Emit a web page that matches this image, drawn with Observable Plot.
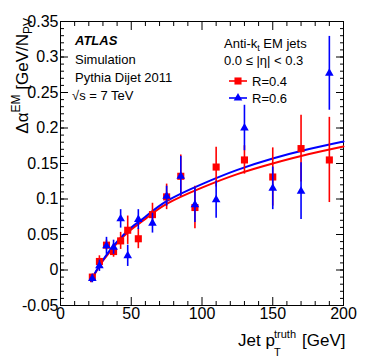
<!DOCTYPE html>
<html><head><meta charset="utf-8">
<script src="https://cdn.jsdelivr.net/npm/d3@7"></script>
<script src="https://cdn.jsdelivr.net/npm/@observablehq/plot@0.6"></script>
<style>body{margin:0;background:#fff}#chart{width:374px;height:359px}</style>
</head><body><div id="chart"></div>
<script>
// ---- data ----
const ptX = [22.5, 27.5, 32.5, 37.5, 42.5, 47.5, 55, 65, 75, 85, 95, 110, 130, 150, 170, 190];
const redY = [-0.010, 0.012, 0.035, 0.026, 0.041, 0.056, 0.044, 0.078, 0.103, 0.132, 0.088, 0.145, 0.155, 0.131, 0.171, 0.155];
const redErr = [0.004, 0.008, 0.007, 0.008, 0.012, 0.020, 0.014, 0.016, 0.018, 0.030, 0.030, 0.028, 0.020, 0.041, 0.047, 0.060];
const blueY = [-0.012, 0.006, 0.034, 0.032, 0.072, 0.020, 0.071, 0.066, 0.104, 0.132, 0.092, 0.099, 0.200, 0.115, 0.111, 0.277];
const blueErr = [0.006, 0.008, 0.012, 0.010, 0.013, 0.015, 0.014, 0.014, 0.014, 0.028, 0.025, 0.026, 0.032, 0.030, 0.040, 0.052];
const fitX = [21.5, 25, 30, 35, 40, 50, 60, 75, 100, 125, 150, 175, 200];
const redFit = [-0.016, -0.003, 0.013, 0.026, 0.038, 0.057, 0.072, 0.093, 0.116, 0.135, 0.150, 0.163, 0.174];
const blueFit = [-0.015, -0.002, 0.014, 0.028, 0.040, 0.060, 0.075, 0.097, 0.121, 0.141, 0.157, 0.170, 0.181];
const xMajor = [0, 50, 100, 150, 200];
const xMinor = [10, 20, 30, 40, 60, 70, 80, 90, 110, 120, 130, 140, 160, 170, 180, 190];
const yMajor = [-0.05, 0, 0.05, 0.1, 0.15, 0.2, 0.25, 0.3, 0.35];
const yMinor = d3.range(-0.05, 0.3501, 0.01).map(v => +v.toFixed(2));
const seriesNames = ["R=0.4", "R=0.6"];

const red = ptX.map((x, i) => ({x, y: redY[i], lo: redY[i] - redErr[i], hi: redY[i] + redErr[i]}));
const blue = ptX.map((x, i) => ({x, y: blueY[i], lo: blueY[i] - blueErr[i], hi: blueY[i] + blueErr[i]}));
const redCurve = fitX.map((x, i) => ({x, y: redFit[i]}));
const blueCurve = fitX.map((x, i) => ({x, y: blueFit[i]}));

const RED = "#ff0000", BLUE = "#0000ff";
const font = "'Liberation Sans', Arial, Helvetica, sans-serif";
const fmt = d => String(+(+d).toFixed(2));
const none = () => "";

const plot = Plot.plot({
  width: 374, height: 359,
  marginLeft: 60, marginRight: 31, marginTop: 21, marginBottom: 54,
  style: {fontFamily: font, fontSize: "16px", background: "#fff", color: "#000"},
  x: {domain: [0, 200]},
  y: {domain: [-0.05, 0.35]},
  marks: [
    Plot.axisX({anchor: "bottom", ticks: xMinor, tickSize: -4, tickFormat: none, label: null}),
    Plot.axisX({anchor: "bottom", ticks: xMajor, tickSize: -8, tickPadding: 10, tickFormat: fmt, label: null}),
    Plot.axisX({anchor: "top", ticks: xMinor, tickSize: -4, tickFormat: none, label: null}),
    Plot.axisX({anchor: "top", ticks: xMajor, tickSize: -8, tickFormat: none, label: null}),
    Plot.axisY({anchor: "left", ticks: yMinor, tickSize: -4, tickFormat: none, label: null}),
    Plot.axisY({anchor: "left", ticks: yMajor, tickSize: -8, tickPadding: 10, tickFormat: fmt, label: null}),
    Plot.axisY({anchor: "right", ticks: yMinor, tickSize: -4, tickFormat: none, label: null}),
    Plot.axisY({anchor: "right", ticks: yMajor, tickSize: -8, tickFormat: none, label: null}),
    Plot.frame({stroke: "#000", strokeWidth: 1}),
    Plot.line(redCurve, {x: "x", y: "y", stroke: RED, strokeWidth: 2, curve: "natural"}),
    Plot.line(blueCurve, {x: "x", y: "y", stroke: BLUE, strokeWidth: 2, curve: "natural"}),
    Plot.ruleX(red, {x: "x", y1: "lo", y2: "hi", stroke: RED, strokeWidth: 1.6}),
    Plot.dot(red, {x: "x", y: "y", symbol: "square", r: 4, fill: RED, stroke: "none"}),
    Plot.ruleX(blue, {x: "x", y1: "lo", y2: "hi", stroke: BLUE, strokeWidth: 1.6}),
    Plot.dot(blue, {x: "x", y: "y", symbol: "triangle", r: 3.2, fill: BLUE, stroke: "none"})
  ]
});
document.getElementById("chart").appendChild(plot);

// ---- annotations ----
const svg = d3.select(plot);
const g = svg.append("g").attr("font-family", font).attr("fill", "#000").attr("text-anchor", "start");

function txt(x, y, parts, size, opts = {}) {
  const t = g.append("text").attr("x", x).attr("y", y).attr("font-size", size)
    .attr("text-anchor", opts.anchor || "start");
  if (opts.transform) t.attr("transform", opts.transform).attr("x", 0).attr("y", 0);
  for (const p of parts) {
    const s = t.append("tspan").text(p.t);
    if (p.size) s.attr("font-size", p.size);
    if (p.dy) s.attr("dy", p.dy);
    if (p.weight) s.attr("font-weight", p.weight);
    if (p.style) s.attr("font-style", p.style);
  }
  return t;
}

// y-axis title
txt(0, 0, [
  {t: "Δα"}, {t: "EM", size: 12, dy: -8}, {t: " [GeV/N", dy: 8}, {t: "PV", size: 12, dy: 4}
], 17, {anchor: "end", transform: "translate(28,18) rotate(-90)"});

// x-axis title
txt(238, 346, [{t: "Jet p"}], 17);
txt(274, 356, [{t: "T"}], 11);
txt(274, 338, [{t: "truth"}], 11);
txt(302, 346, [{t: "[GeV]"}], 17);

// ATLAS block
txt(75, 45, [{t: "ATLAS", weight: "bold", style: "italic"}], 13);
txt(75, 64, [{t: "Simulation"}], 13);
txt(75, 82, [{t: "Pythia Dijet 2011"}], 13);
txt(72, 100, [{t: "√s = 7 TeV"}], 13);

// right block
txt(224, 48, [{t: "Anti-k"}, {t: "t", size: 9, dy: 3}, {t: " EM jets", dy: -3}], 13);
txt(224, 65, [{t: "0.0 ≤ |η| < 0.3"}], 13);

// legend
const leg = [{name: seriesNames[0], color: RED, sym: d3.symbolSquare, size: Math.PI * 16, y: 81},
             {name: seriesNames[1], color: BLUE, sym: d3.symbolTriangle, size: Math.PI * 3.2 * 3.2, y: 98}];
for (const l of leg) {
  g.append("line").attr("x1", 229).attr("x2", 247).attr("y1", l.y).attr("y2", l.y)
    .attr("stroke", l.color).attr("stroke-width", 1.6);
  g.append("path").attr("d", d3.symbol(l.sym, l.size)()).attr("transform", `translate(238,${l.y})`)
    .attr("fill", l.color);
  txt(252, l.y + 5, [{t: l.name}], 13);
}
</script>
</body></html>
